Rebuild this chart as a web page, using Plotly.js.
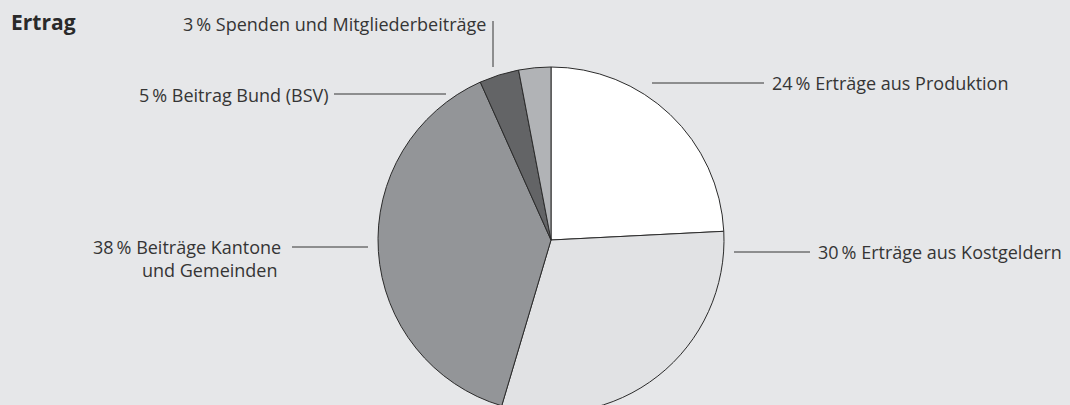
<!DOCTYPE html>
<html>
<head>
<meta charset="utf-8">
<script src="https://cdn.plot.ly/plotly-3.0.1.min.js"></script>
<style>
html, body { margin: 0; padding: 0; width: 1070px; height: 405px; overflow: hidden; background: #e6e7e9; }
#chart { width: 1070px; height: 420px; }
</style>
</head>
<body>
<div id="chart"></div>
<script>
// Data
const chartTitle = 'Ertrag';
const categories = ['Erträge aus Produktion', 'Erträge aus Kostgeldern', 'Beiträge Kantone und Gemeinden', 'Beitrag Bund (BSV)', 'Spenden und Mitgliederbeiträge'];
const values = [24.2, 30.4, 38.7, 3.7, 3.0];          // slice sizes as drawn
const percentLabels = ['24', '30', '38', '5', '3'];   // printed percentages
const sliceColors = ['#ffffff', '#e1e2e4', '#939598', '#636466', '#b1b3b6'];

const W = 1070, H = 420;
const px = x => x / W;
const py = y => 1 - y / H;
const txtColor = '#353535';
const fontFam = '"Open Sans", "Noto Sans", sans-serif';

function lbl(i) { return percentLabels[i] + '\u2009% ' + categories[i]; }

const annotations = [
  {x: px(770), y: py(83), xanchor: 'left', text: lbl(0)},
  {x: px(816), y: py(252), xanchor: 'left', text: lbl(1)},
  {x: px(91), y: py(247), xanchor: 'left', text: percentLabels[2] + '\u2009% Beiträge Kantone'},
  {x: px(140), y: py(270), xanchor: 'left', text: 'und Gemeinden'},
  {x: px(331), y: py(95), xanchor: 'right', text: lbl(3)},
  {x: px(488), y: py(24), xanchor: 'right', text: lbl(4)}
].map(a => Object.assign({xref: 'paper', yref: 'paper', yanchor: 'middle', showarrow: false,
  font: {family: fontFam, size: 18, color: txtColor}}, a));

const seg = (x0, y0, x1, y1) => ({type: 'line', xref: 'paper', yref: 'paper',
  x0: px(x0), y0: py(y0), x1: px(x1), y1: py(y1), line: {color: txtColor, width: 1}});

const shapes = [
  seg(652, 83, 764, 83),
  seg(734, 252, 810, 252),
  seg(292, 247, 368, 247),
  seg(334, 94, 446, 94),
  seg(493, 21, 493, 67)
];

const trace = {
  type: 'pie',
  labels: categories,
  values: values,
  sort: false,
  direction: 'clockwise',
  rotation: 0,
  textinfo: 'none',
  hoverinfo: 'label+percent',
  marker: {colors: sliceColors, line: {color: '#2b2b2b', width: 1}},
  domain: {x: [px(378), px(724)], y: [py(413), py(67)]},
  showlegend: false
};

const layout = {
  width: W, height: H,
  margin: {l: 0, r: 0, t: 0, b: 0},
  paper_bgcolor: '#e6e7e9',
  plot_bgcolor: '#e6e7e9',
  title: {text: '<b>' + chartTitle + '</b>', x: px(11), xanchor: 'left', xref: 'paper',
    y: py(23), yanchor: 'middle', yref: 'container',
    font: {family: fontFam, size: 21, color: '#2a2a2a'}},
  annotations: annotations,
  shapes: shapes,
  showlegend: false
};

Plotly.newPlot('chart', [trace], layout, {displayModeBar: false, staticPlot: true});
</script>
</body>
</html>
